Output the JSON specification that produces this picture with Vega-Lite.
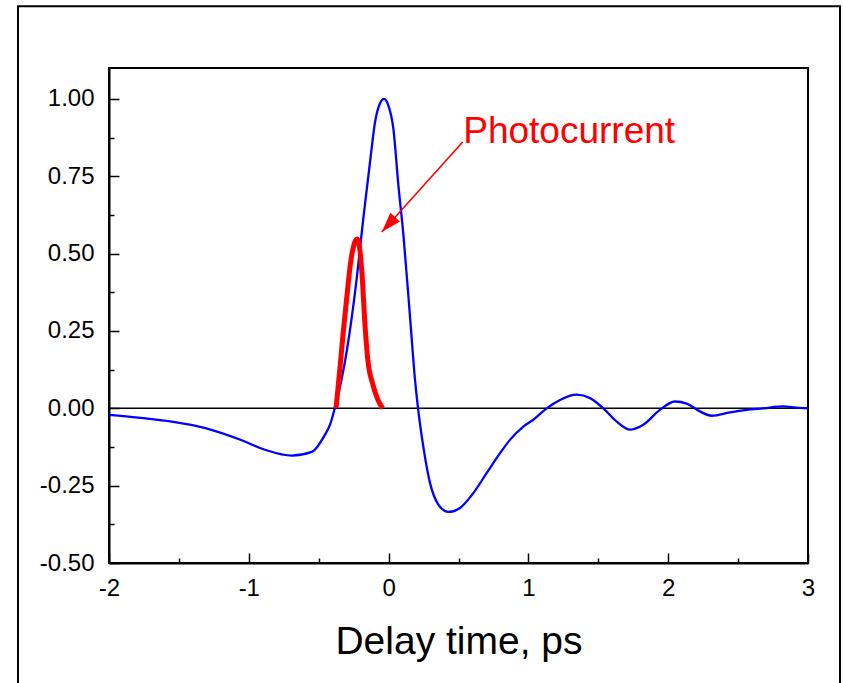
{
  "$schema": "https://vega.github.io/schema/vega-lite/v6.json",
  "width": 699,
  "height": 495,
  "autosize": "none",
  "padding": {"left": 109, "top": 68, "right": 35, "bottom": 120},
  "background": "white",
  "config": {
    "font": "Liberation Sans",
    "view": {"stroke": "black", "strokeWidth": 2},
    "axis": {
      "domainColor": "black", "domainWidth": 2,
      "tickColor": "black", "tickWidth": 1.5,
      "labelColor": "black", "labelFont": "Liberation Sans", "labelFontSize": 24,
      "grid": false, "titleColor": "black", "titleFont": "Liberation Sans", "titleFontWeight": "normal",
      "labelOverlap": false, "labelFlush": false
    }
  },
  "datasets": {
    "signal": [
      {"x": -2.0, "y": -0.021}, {"x": -1.79, "y": -0.03}, {"x": -1.55, "y": -0.043}, {"x": -1.31, "y": -0.064},
      {"x": -1.07, "y": -0.10}, {"x": -0.884, "y": -0.134}, {"x": -0.693, "y": -0.153}, {"x": -0.55, "y": -0.141},
      {"x": -0.455, "y": -0.085}, {"x": -0.419, "y": -0.053}, {"x": -0.385, "y": 0.0}, {"x": -0.30, "y": 0.183},
      {"x": -0.228, "y": 0.42}, {"x": -0.181, "y": 0.614}, {"x": -0.133, "y": 0.796}, {"x": -0.097, "y": 0.925},
      {"x": -0.062, "y": 0.985}, {"x": -0.033, "y": 1.0}, {"x": -0.002, "y": 0.979}, {"x": 0.034, "y": 0.904},
      {"x": 0.07, "y": 0.721}, {"x": 0.106, "y": 0.56}, {"x": 0.154, "y": 0.291}, {"x": 0.189, "y": 0.092},
      {"x": 0.212, "y": -0.005}, {"x": 0.248, "y": -0.123}, {"x": 0.296, "y": -0.241}, {"x": 0.356, "y": -0.311},
      {"x": 0.427, "y": -0.335}, {"x": 0.511, "y": -0.322}, {"x": 0.606, "y": -0.274}, {"x": 0.702, "y": -0.209},
      {"x": 0.797, "y": -0.145}, {"x": 0.868, "y": -0.102}, {"x": 0.964, "y": -0.059}, {"x": 1.035, "y": -0.037},
      {"x": 1.131, "y": 0.0}, {"x": 1.226, "y": 0.027}, {"x": 1.345, "y": 0.044}, {"x": 1.441, "y": 0.033},
      {"x": 1.536, "y": 0.0}, {"x": 1.632, "y": -0.043}, {"x": 1.727, "y": -0.069}, {"x": 1.822, "y": -0.053},
      {"x": 1.941, "y": -0.005}, {"x": 2.049, "y": 0.022}, {"x": 2.132, "y": 0.015}, {"x": 2.227, "y": -0.01},
      {"x": 2.311, "y": -0.024}, {"x": 2.442, "y": -0.013}, {"x": 2.561, "y": -0.005}, {"x": 2.68, "y": 0.0},
      {"x": 2.823, "y": 0.006}, {"x": 2.918, "y": 0.002}, {"x": 3.0, "y": 0.0}
    ],
    "photo": [
      {"x": -0.376, "y": 0.0}, {"x": -0.348, "y": 0.13}, {"x": -0.324, "y": 0.248}, {"x": -0.295, "y": 0.377},
      {"x": -0.271, "y": 0.474}, {"x": -0.245, "y": 0.533}, {"x": -0.225, "y": 0.547}, {"x": -0.205, "y": 0.51},
      {"x": -0.188, "y": 0.42}, {"x": -0.172, "y": 0.291}, {"x": -0.150, "y": 0.162}, {"x": -0.112, "y": 0.076},
      {"x": -0.076, "y": 0.027}, {"x": -0.042, "y": 0.0}
    ],
    "arrow": [{"x": 0.53, "y": 0.861, "x2": -0.049, "y2": 0.57}],
    "label": [{"x": 0.534, "y": 0.858, "text": "Photocurrent"}],
    "one": [{"n": 1}]
  },
  "layer": [
    {
      "data": {"name": "one"},
      "mark": {"type": "rect", "fill": "transparent", "stroke": "black", "strokeWidth": 2, "clip": false},
      "encoding": {
        "x": {"datum": -2.651, "type": "quantitative"}, "x2": {"datum": 3.229},
        "y": {"datum": 1.30, "type": "quantitative"}, "y2": {"datum": -0.91}
      }
    },
    {
      "data": {"name": "one"},
      "mark": {"type": "rule", "color": "black", "strokeWidth": 1.5},
      "encoding": {
        "x": {"datum": -2, "type": "quantitative"}, "x2": {"datum": 3},
        "y": {"datum": 0, "type": "quantitative"}
      }
    },
    {
      "data": {"name": "signal"},
      "mark": {"type": "line", "color": "#0000ff", "strokeWidth": 2.3, "interpolate": "monotone"},
      "encoding": {
        "x": {
          "field": "x", "type": "quantitative",
          "scale": {"domain": [-2, 3], "nice": false, "zero": false},
          "axis": {
            "title": "Delay time, ps", "titleFontSize": 39, "titlePadding": 17,
            "values": [-2, -1.5, -1, -0.5, 0, 0.5, 1, 1.5, 2, 2.5, 3],
            "tickSize": {"condition": {"test": "abs(datum.value - round(datum.value)) < 1e-6", "value": -10}, "value": -5},
            "labelPadding": 23,
            "labelExpr": "abs(datum.value - round(datum.value)) < 1e-6 ? datum.value + '' : ''"
          }
        },
        "y": {
          "field": "y", "type": "quantitative",
          "scale": {"domain": [-0.5, 1.1], "nice": false, "zero": false},
          "axis": {
            "title": null,
            "values": [-0.5, -0.375, -0.25, -0.125, 0, 0.125, 0.25, 0.375, 0.5, 0.625, 0.75, 0.875, 1.0],
            "tickSize": {"condition": {"test": "abs(datum.value*4 - round(datum.value*4)) < 1e-6", "value": -10}, "value": -5},
            "labelPadding": 25,
            "labelExpr": "abs(datum.value*4 - round(datum.value*4)) < 1e-6 ? replace(format(datum.value, '.2f'), '\u2212', '-') : ''"
          }
        }
      }
    },
    {
      "data": {"name": "photo"},
      "mark": {"type": "line", "color": "#ff0000", "strokeWidth": 5, "interpolate": "monotone"},
      "encoding": {
        "x": {"field": "x", "type": "quantitative"},
        "y": {"field": "y", "type": "quantitative"}
      }
    },
    {
      "data": {"name": "arrow"},
      "mark": {"type": "rule", "color": "#ff0000", "strokeWidth": 1.6},
      "encoding": {
        "x": {"field": "x", "type": "quantitative"},
        "y": {"field": "y", "type": "quantitative"},
        "x2": {"field": "x2"}, "y2": {"field": "y2"}
      }
    },
    {
      "data": {"name": "arrow"},
      "mark": {"type": "point", "shape": "M0,0L-0.32,1L0.32,1Z", "filled": true, "color": "#ff0000", "opacity": 1, "size": 1600, "angle": 222},
      "encoding": {
        "x": {"field": "x2", "type": "quantitative"},
        "y": {"field": "y2", "type": "quantitative"}
      }
    },
    {
      "data": {"name": "label"},
      "mark": {"type": "text", "align": "left", "baseline": "alphabetic", "fontSize": 37, "color": "#ff0000", "font": "Liberation Sans"},
      "encoding": {
        "x": {"field": "x", "type": "quantitative"},
        "y": {"field": "y", "type": "quantitative"},
        "text": {"field": "text"}
      }
    }
  ]
}
